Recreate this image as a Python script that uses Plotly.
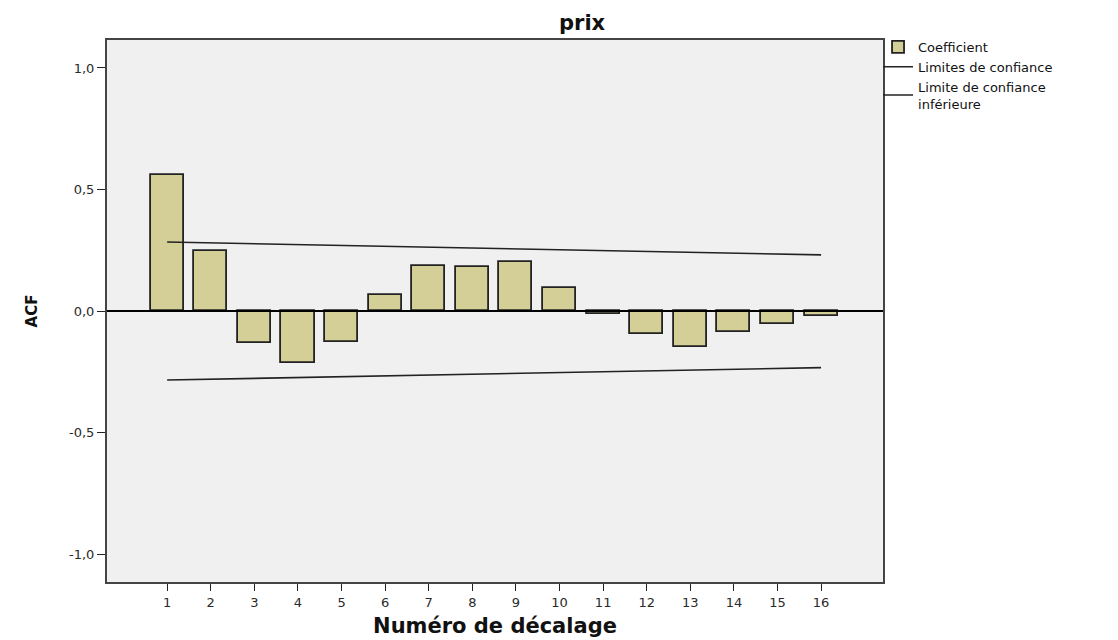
"""ACF bar chart for the 'prix' series, SPSS-style."""

import plotly.graph_objects as go

# data
lags = list(range(1, 17))
acf = [0.56, 0.247, -0.132, -0.214, -0.128, 0.067, 0.185, 0.18,
       0.20, 0.093, -0.013, -0.095, -0.147, -0.085, -0.055, -0.02]

limit_lags = [1, 16]
upper_limit = [0.284, 0.231]
lower_limit = [-0.284, -0.233]

y_ticks = [-1.0, -0.5, 0.0, 0.5, 1.0]
y_tick_text = ["-1,0", "-0,5", "0,0", "0,5", "1,0"]

BAR_FILL = "#d4ce97"
INK = "#222222"
FONT = "DejaVu Sans, Verdana, sans-serif"

fig = go.Figure()

fig.add_trace(
    go.Bar(
        x=lags,
        y=acf,
        width=0.76,
        name="Coefficient",
        marker=dict(color=BAR_FILL, line=dict(color=INK, width=1.8)),
    )
)

fig.add_trace(
    go.Scatter(
        x=limit_lags,
        y=upper_limit,
        mode="lines",
        name="Limites de confiance",
        line=dict(color=INK, width=1.6),
    )
)

fig.add_trace(
    go.Scatter(
        x=limit_lags,
        y=lower_limit,
        mode="lines",
        name="Limite de confiance<br>inférieure",
        line=dict(color=INK, width=1.6),
    )
)

# zero reference line drawn over the bars
fig.add_shape(
    type="line",
    xref="paper", x0=0, x1=1,
    yref="y", y0=0, y1=0,
    line=dict(color="#000000", width=1.8),
    layer="above",
)

# the page body adds an 8px offset, so margins are trimmed by that much
fig.update_layout(
    width=1110,
    height=632,
    paper_bgcolor="#ffffff",
    plot_bgcolor="#f0f0f0",
    margin=dict(l=99, r=235, t=32, b=58, autoexpand=False),
    font=dict(family=FONT, size=13, color="#2a2a2a"),
    showlegend=True,
    legend=dict(
        x=0.9936, xanchor="left", y=1.015, yanchor="top",
        bgcolor="rgba(0,0,0,0)",
        font=dict(family=FONT, size=13, color="#111111"),
        tracegroupgap=0,
        itemwidth=30,
    ),
    bargap=0,
    annotations=[
        dict(
            text="<b>prix</b>",
            xref="paper", yref="paper",
            x=0.6134, y=1.031,
            xanchor="center", yanchor="middle",
            showarrow=False,
            font=dict(family=FONT, size=21, color="#111111"),
        )
    ],
)

fig.update_xaxes(
    range=[-0.38, 17.42],
    tickmode="array",
    tickvals=lags,
    ticks="outside",
    ticklen=7,
    tickcolor=INK,
    showgrid=False,
    zeroline=False,
    showline=True,
    linecolor="#444444",
    linewidth=2,
    mirror=True,
    automargin=False,
    title=dict(text="<b>Numéro de décalage</b>", standoff=10,
               font=dict(family=FONT, size=21, color="#111111")),
)

fig.update_yaxes(
    range=[-1.115, 1.115],
    tickmode="array",
    tickvals=y_ticks,
    ticktext=y_tick_text,
    ticks="outside",
    ticklen=8,
    tickcolor=INK,
    showgrid=False,
    zeroline=False,
    showline=True,
    linecolor="#444444",
    linewidth=2,
    mirror=True,
    automargin=False,
    title=dict(text="<b>ACF</b>", standoff=28,
               font=dict(family=FONT, size=15, color="#111111")),
)

fig.write_html("out.html")
